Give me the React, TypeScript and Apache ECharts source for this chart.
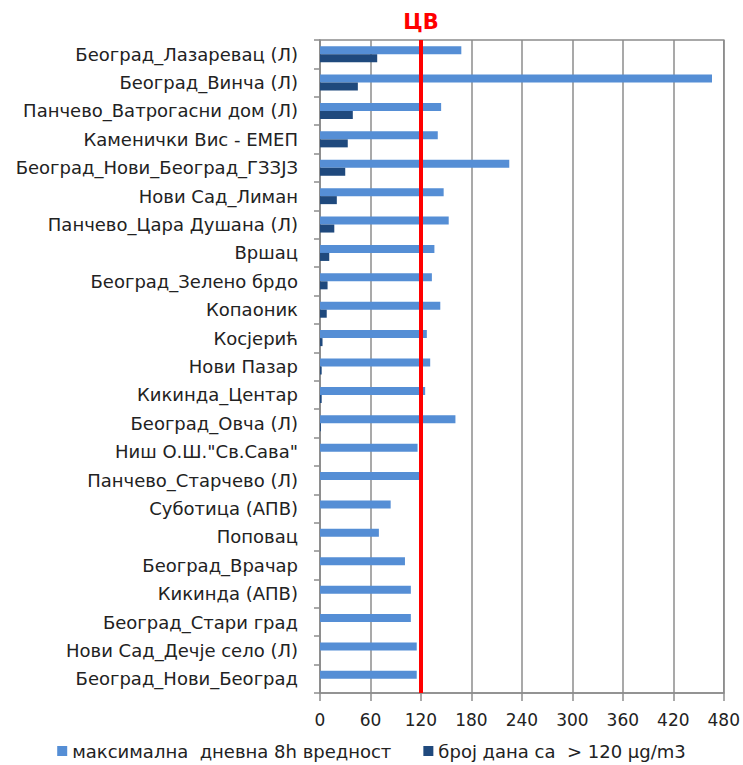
import React, { useEffect, useRef } from "react";
import * as echarts from "echarts";

const categories = [
  "Београд_Лазаревац (Л)",
  "Београд_Винча (Л)",
  "Панчево_Ватрогасни дом (Л)",
  "Каменички Вис - ЕМЕП",
  "Београд_Нови_Београд_ГЗЗЈЗ",
  "Нови Сад_Лиман",
  "Панчево_Цара Душана (Л)",
  "Вршац",
  "Београд_Зелено брдо",
  "Копаоник",
  "Косјерић",
  "Нови Пазар",
  "Кикинда_Центар",
  "Београд_Овча (Л)",
  "Ниш О.Ш.\"Св.Сава\"",
  "Панчево_Старчево (Л)",
  "Суботица (АПВ)",
  "Поповац",
  "Београд_Врачар",
  "Кикинда (АПВ)",
  "Београд_Стари град",
  "Нови Сад_Дечје село (Л)",
  "Београд_Нови_Београд",
];

const maxDaily8h = [168, 466, 144, 140, 225, 147, 153, 136, 133, 143, 127, 131, 125, 161, 116, 122, 84, 70, 101, 108, 108, 115, 115];
const daysOver120 = [68, 45, 39, 33, 30, 20, 17, 11, 9, 8, 3, 2, 2, 1, 0, 0, 0, 0, 0, 0, 0, 0, 0];

const xTicks = [0, 60, 120, 180, 240, 300, 360, 420, 480];
const limitValue = 120;

const seriesNames = ["максимална  дневна 8h вредност", "број дана са  > 120 μg/m3"];

export default function App() {
  const ref = useRef<HTMLDivElement>(null);
  useEffect(() => {
    if (!ref.current) return;
    const chart = echarts.init(ref.current, null, { renderer: "svg" });
    const font = "'DejaVu Sans', sans-serif";
    chart.setOption({
      animation: false,
      textStyle: { fontFamily: font },
      grid: {
        left: 320,
        right: 19,
        top: 40,
        bottom: 72,
        show: true,
        borderColor: "#8c8c8c",
        borderWidth: 1.5,
      },
      legend: {
        bottom: 0,
        left: "center",
        itemWidth: 10,
        itemHeight: 10,
        itemGap: 32,
        icon: "rect",
        textStyle: { fontSize: 18, color: "#222", fontFamily: font },
        data: seriesNames,
      },
      xAxis: {
        type: "value",
        min: xTicks[0],
        max: xTicks[xTicks.length - 1],
        interval: 60,
        axisLine: { show: true, lineStyle: { color: "#8c8c8c", width: 1.5 } },
        axisTick: { show: true, length: 8, lineStyle: { color: "#8c8c8c", width: 1.5 } },
        splitLine: { show: true, lineStyle: { color: "#8c8c8c", width: 1.5 } },
        axisLabel: { fontSize: 17, color: "#222", margin: 18, fontFamily: font },
      },
      yAxis: {
        type: "category",
        inverse: true,
        data: categories,
        axisLine: { show: true, lineStyle: { color: "#8c8c8c", width: 1.5 } },
        axisTick: { show: true, length: 6, lineStyle: { color: "#8c8c8c", width: 1.5 } },
        axisLabel: { fontSize: 18, color: "#222", margin: 22, fontFamily: font },
      },
      series: [
        {
          name: seriesNames[0],
          type: "bar",
          data: maxDaily8h,
          barWidth: 8,
          barGap: "0%",
          itemStyle: { color: "#558ED5" },
          markLine: {
            symbol: "none",
            silent: true,
            data: [{ xAxis: limitValue }],
            lineStyle: { color: "#ff0000", width: 4, type: "solid" },
            label: {
              show: true,
              position: "start",
              formatter: "ЦВ",
              color: "#ff0000",
              fontSize: 21,
              fontWeight: "bold",
              fontFamily: font,
              distance: 8,
            },
          },
        },
        {
          name: seriesNames[1],
          type: "bar",
          data: daysOver120,
          barWidth: 8,
          barGap: "0%",
          itemStyle: { color: "#1F497D" },
        },
      ],
    });
    return () => chart.dispose();
  }, []);
  return <div ref={ref} style={{ width: 743, height: 765, position: "absolute", left: 0, top: 0 }} />;
}
